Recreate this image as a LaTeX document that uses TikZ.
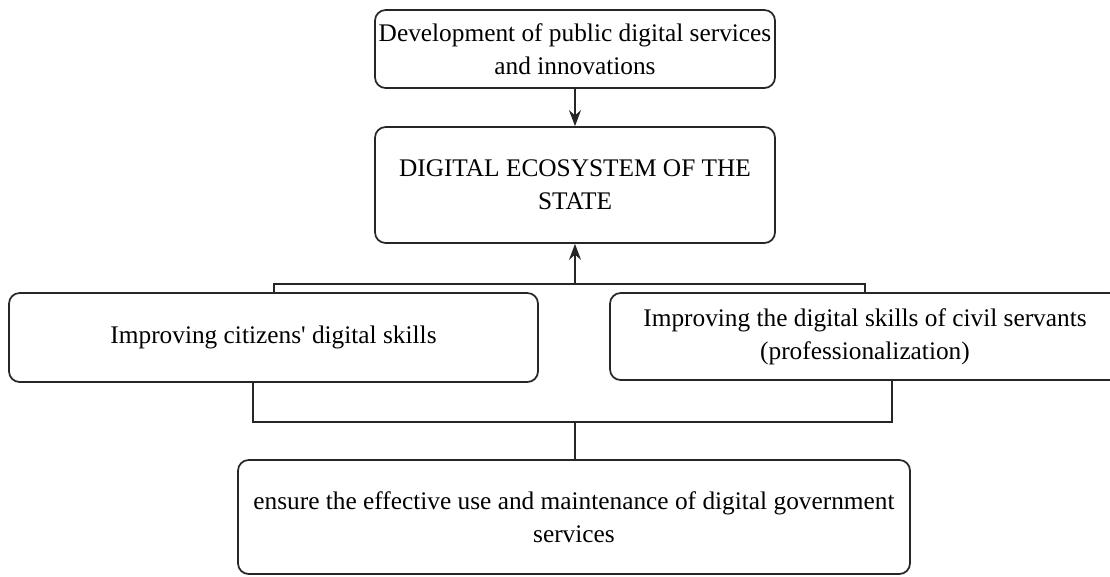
\documentclass[tikz,border=0pt]{standalone}
\usepackage{fontspec}
\setmainfont{Liberation Serif}
\usetikzlibrary{arrows.meta,positioning}

\tikzset{
    block/.style={draw=black!85, line width=1.3pt, rounded corners=8pt, align=center,
        font=\fontsize{19}{25}\selectfont, inner sep=0pt},
    link/.style={draw=black!85, line width=1.3pt},
    arr/.style={link, -{Stealth[length=12pt,width=9pt]}}
}

\begin{document}
\begin{tikzpicture}[x=0.75pt,y=0.75pt]
    \clip (0,0) rectangle (1110,-576);
    % boxes
    \node [block, minimum width=300pt, minimum height=58.5pt] (dev) at (575,-49)
        {Development of public digital services\\and innovations};
    \node [block, minimum width=300pt, minimum height=87pt] (eco) at (575,-185)
        {DIGITAL ECOSYSTEM OF THE\\STATE};
    \node [block, minimum width=396.75pt, minimum height=66.75pt] (cit) at (273.5,-337.5)
        {Improving citizens\textquotesingle{} digital skills};
    \node [block, minimum width=382.5pt, minimum height=65.25pt] (civ) at (865,-336.5)
        {Improving the digital skills of civil servants\\(professionalization)};
    \node [block, minimum width=504pt, minimum height=85.5pt] (use) at (574,-517)
        {ensure the effective use and maintenance of digital government\\services};
    % joints
    \coordinate (up) at (575,-284);
    \coordinate (down) at (575,-422);
    % connectors
    \draw [arr] (dev) -- (eco);
    \draw [arr] (up) -- (eco);
    \draw [link] (cit.north -| 274,0) |- (up) -| (civ.north);
    \draw [link] (cit.south -| 253,0) |- (down) -| (civ.south -| 892,0);
    \draw [link] (down) -- (down |- use.north);
\end{tikzpicture}
\end{document}
